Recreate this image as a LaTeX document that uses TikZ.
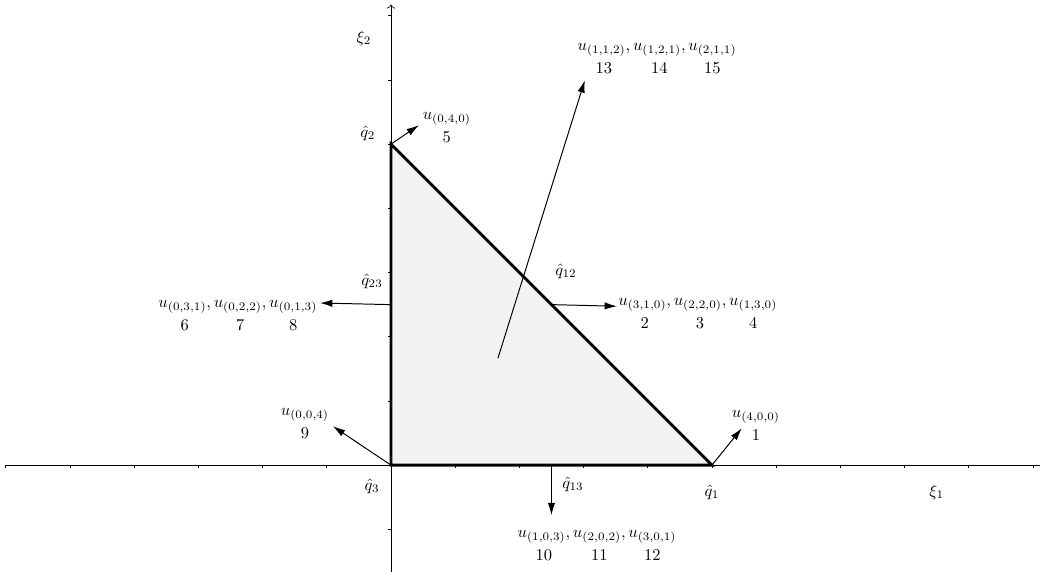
\documentclass[tikz,border=0pt]{standalone}
\usepackage{amsmath,amssymb}
\usepackage{tikz}
\usetikzlibrary{arrows.meta,calc,positioning}
\definecolor{facefill}{RGB}{242,242,242}

\begin{document}
\begin{tikzpicture}[x=6.85cm,y=6.85cm,
  edge/.style={line width=1.7pt},
  normal/.style={line width=0.6pt,-{Latex[length=7.5pt,width=4.5pt]}},
  dofs/.style={inner sep=0pt}]
  \useasboundingbox (-1.218,-0.330) rectangle (2.022,1.449);
  % axes with ticks
  \draw (-1.2,0) -- (2.03,0);
  \draw[->] (0,-0.34) -- (0,1.435);
  \foreach \x in {-1.2,-1.0,...,2.01} \draw (\x,0) -- (\x,-0.008);
  \foreach \y in {-0.2,0.2,0.4,...,1.41} \draw (0,\y) -- (-0.008,\y);
  \node at (1.70,-0.084) {$\xi_1$};
  \node at (-0.084,1.33) {$\xi_2$};
  % reference triangle
  \coordinate (q1) at (1,0); \coordinate (q2) at (0,1); \coordinate (q3) at (0,0);
  \coordinate (q12) at (0.5,0.5); \coordinate (q23) at (0,0.5); \coordinate (q13) at (0.5,0);
  \coordinate (c) at (1/3,1/3);
  \fill[facefill] (q1) -- (q2) -- (q3) -- cycle;
  \draw[edge] (q1) -- (q2) -- (q3) -- cycle;
  \node at (1.0,-0.084) {$\hat q_1$};
  \node at (-0.072,1.034) {$\hat q_2$};
  \node at (-0.059,-0.065) {$\hat q_3$};
  \node at (0.545,0.604) {$\hat q_{12}$};
  \node at (-0.059,0.573) {$\hat q_{23}$};
  \node at (0.567,-0.059) {$\hat q_{13}$};
  % normals and degrees of freedom
  \coordinate (n1) at (1.093,0.115); \coordinate (n2) at (0.087,1.059); \coordinate (n3) at (-0.181,0.121);
  \coordinate (n12) at (0.704,0.495); \coordinate (n23) at (-0.221,0.505); \coordinate (n13) at (0.5,-0.156);
  \coordinate (nc) at (0.604,1.199);
  \foreach \a/\b in {q1/n1,q2/n2,q3/n3,q12/n12,q23/n23,q13/n13,c/nc} \draw[normal] (\a) -- (\b);
  \node[dofs] (d1) at (1.137,0.125) {$\begin{array}{@{}c@{}} u_{(4,0,0)}\\[2pt] 1\end{array}$};
  \node[dofs] (d5) at (0.174,1.053) {$\begin{array}{@{}c@{}} u_{(0,4,0)}\\[2pt] 5\end{array}$};
  \node[dofs] (d9) at (-0.268,0.131) {$\begin{array}{@{}c@{}} u_{(0,0,4)}\\[2pt] 9\end{array}$};
  \node[dofs] (d2) at (0.956,0.474) {$\begin{array}{@{}c@{\,}c@{\,}c@{}} u_{(3,1,0)}, & u_{(2,2,0)}, & u_{(1,3,0)}\\[2pt] 2 & 3 & 4\end{array}$};
  \node[dofs] (d6) at (-0.477,0.467) {$\begin{array}{@{}c@{\,}c@{\,}c@{}} u_{(0,3,1)}, & u_{(0,2,2)}, & u_{(0,1,3)}\\[2pt] 6 & 7 & 8\end{array}$};
  \node[dofs] (d10) at (0.642,-0.249) {$\begin{array}{@{}c@{\,}c@{\,}c@{}} u_{(1,0,3)}, & u_{(2,0,2)}, & u_{(3,0,1)}\\[2pt] 10 & 11 & 12\end{array}$};
  \node[dofs] (d13) at (0.829,1.268) {$\begin{array}{@{}c@{\,}c@{\,}c@{}} u_{(1,1,2)}, & u_{(1,2,1)}, & u_{(2,1,1)}\\[2pt] 13 & 14 & 15\end{array}$};
\end{tikzpicture}
\end{document}
